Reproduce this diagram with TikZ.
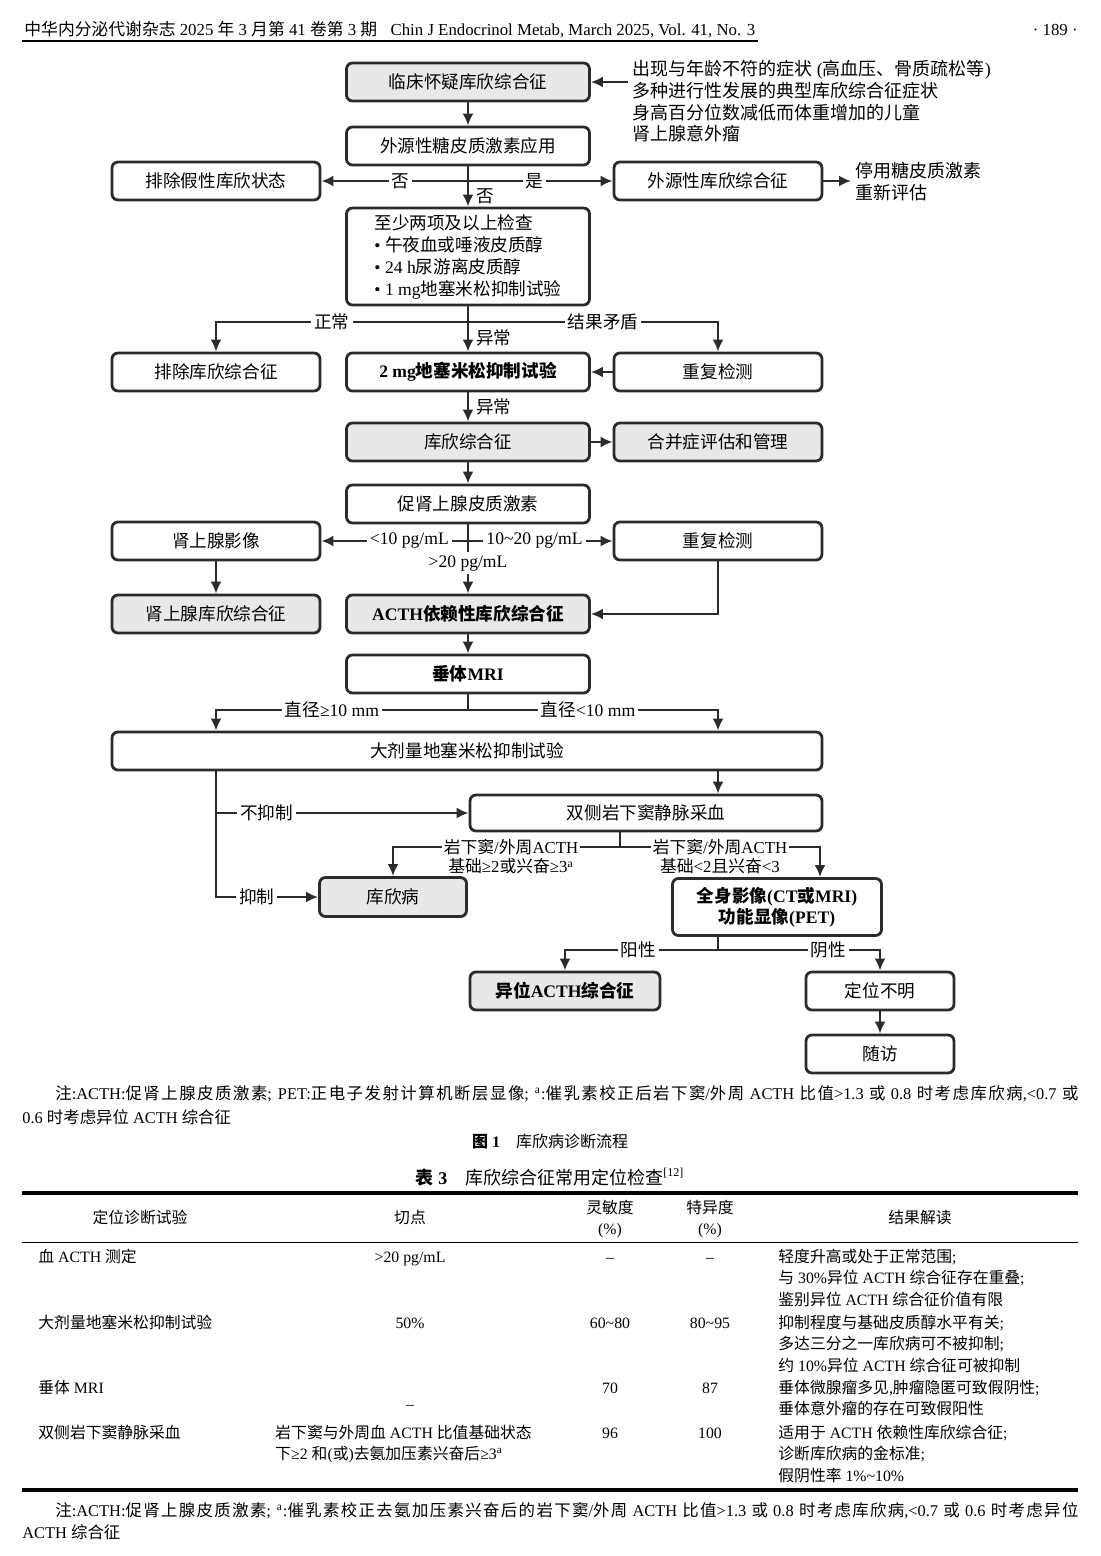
\documentclass[tikz,border=0pt]{standalone}
\usepackage{fontspec}
\setmainfont{Liberation Serif}
\newfontfamily\cjkn{Noto Sans CJK SC}
\newcommand\cjkfont{\cjkn}
\XeTeXinterchartokenstate=1
\newXeTeXintercharclass\cjkcls
\newcount\cjkcnt
\newcommand\cjkrange[2]{\cjkcnt=#1\relax
  \loop\XeTeXcharclass\cjkcnt=\cjkcls
  \ifnum\cjkcnt<#2\relax\advance\cjkcnt by 1\repeat}
\cjkrange{"3000}{"303F}
\cjkrange{"4E00}{"9FFF}
\cjkrange{"FF00}{"FFEF}
\XeTeXinterchartoks 0 \cjkcls = {\cjkfont}
\XeTeXinterchartoks 4095 \cjkcls = {\cjkfont}
\XeTeXinterchartoks \cjkcls 0 = {\rmfamily}
\XeTeXinterchartoks \cjkcls 4095 = {\rmfamily}
\XeTeXinterchartoks \cjkcls \cjkcls = {\hskip0pt plus 0.15em\relax}
\usetikzlibrary{arrows.meta}
\definecolor{ink}{HTML}{2B2B2B}
\definecolor{boxfill}{HTML}{E8E8E8}

\begin{document}
\begin{tikzpicture}[x=0.5pt,y=-0.5pt,
  bx/.style={draw=ink,line width=1.4pt,rounded corners=3pt,fill=white,
    minimum width=121.5pt,minimum height=19pt,inner sep=1pt,align=center,
    font=\fontsize{8.8}{10.5}\selectfont},
  gbx/.style={bx,fill=boxfill},
  sbx/.style={bx,minimum width=104pt},
  bf/.style={font=\fontsize{8.8}{10.5}\selectfont\bfseries},
  a/.style={-{Latex[length=6pt,width=5.5pt]},draw=ink,line width=1.25pt},
  ln/.style={draw=ink,line width=1.25pt},
  lab/.style={fill=white,inner sep=1.5pt,font=\fontsize{8.8}{9}\selectfont},
  lab2/.style={lab,inner sep=1pt,anchor=north,yshift=5.3pt,align=center,
    font=\fontsize{8.4}{9.4}\selectfont},
  side/.style={inner sep=2pt,font=\fontsize{9}{10.5}\selectfont},
  txt/.style={inner sep=0pt,font=\fontsize{8.2}{10.75}\selectfont},
  tb/.style={inner sep=0pt,font=\fontsize{7.9}{10.75}\selectfont}]
\fill[white] (0,0) rectangle (1100,1556);
\useasboundingbox (0,0) rectangle (1100,1556);
% page head
\node[anchor=base west,inner sep=1pt,font=\fontsize{8.4}{10}\selectfont] (head) at (22,36)
  {中华内分泌代谢杂志 2025 年 3 月第 41 卷第 3 期\hspace{0.8em}Chin J Endocrinol Metab, March 2025, Vol. 41, No. 3};
\draw[line width=0.6pt] (head.south west) -- (head.south east);
\node[txt,anchor=base east,font=\fontsize{8.4}{10}\selectfont] (page) at (1078,36) {· 189 ·};
% flow chart
\node[gbx] (sus) at (468,82) {临床怀疑库欣综合征};
\node[side,anchor=base west] (sym) at (628,76) {\begin{tabular}[t]{@{}l@{}}出现与年龄不符的症状 (高血压、骨质疏松等)\\多种进行性发展的典型库欣综合征症状\\身高百分位数减低而体重增加的儿童\\肾上腺意外瘤\end{tabular}};
\node[bx] (exo) at (468,146) {外源性糖皮质激素应用};
\node[sbx] (pseudo) at (216,181) {排除假性库欣状态};
\node[sbx] (exocs) at (718,181) {外源性库欣综合征};
\node[side,anchor=base west] (stop) at (851,178) {\begin{tabular}[t]{@{}l@{}}停用糖皮质激素\\重新评估\end{tabular}};
\node[bx,minimum height=48.5pt,align=left,font=\fontsize{8.8}{11}\selectfont] (scr) at (468,256.5)
  {至少两项及以上检查\\• 午夜血或唾液皮质醇\\• 24 h尿游离皮质醇\\• 1 mg地塞米松抑制试验};
\node[sbx] (excl) at (216,372) {排除库欣综合征};
\node[bx,bf] (dst) at (468,372) {2 mg地塞米松抑制试验};
\node[sbx] (rep1) at (718,372) {重复检测};
\node[gbx] (cs) at (468,442) {库欣综合征};
\node[gbx,minimum width=104pt] (comor) at (718,442) {合并症评估和管理};
\node[bx] (acth) at (468,504) {促肾上腺皮质激素};
\node[sbx] (adimg) at (216,541) {肾上腺影像};
\node[sbx] (rep2) at (718,541) {重复检测};
\node[gbx,minimum width=104pt] (adcs) at (216,614) {肾上腺库欣综合征};
\node[gbx,bf] (dep) at (468,614) {ACTH依赖性库欣综合征};
\node[bx,bf] (mri) at (468,674) {垂体MRI};
\node[bx,minimum width=355pt] (hdd) at (467,751) {大剂量地塞米松抑制试验};
\node[bx,minimum width=176pt,minimum height=18pt] (ipss) at (646,813) {双侧岩下窦静脉采血};
\node[gbx,minimum width=73.5pt,minimum height=19.5pt] (cd) at (393,897) {库欣病};
\node[bx,bf,minimum width=104.5pt,minimum height=28.5pt] (body) at (777,907) {全身影像(CT或MRI)\\功能显像(PET)};
\node[gbx,bf,minimum width=95pt] (ect) at (565,991) {异位ACTH综合征};
\node[bx,minimum width=74pt] (unk) at (880,991) {定位不明};
\node[bx,minimum width=74pt] (fu) at (880,1054) {随访};
\coordinate (s1) at (468,322);
\coordinate (m1) at (468,710);
\coordinate (i1) at (620,847);
\coordinate (b1) at (718,950);
\draw[a] (sym.west |- sus) -- (sus);
\draw[a] (sus) -- (exo);
\draw[a] (exo) -- (scr) node[lab,fill=none,pos=.74,anchor=west,xshift=2pt] {否};
\draw[a] (exo.south |- pseudo) -- (pseudo) node[lab,pos=.46] {否};
\draw[a] (exo.south |- exocs) -- (exocs) node[lab,pos=.46] {是};
\draw[a] (exocs) -- (stop.west |- exocs);
\draw[a] (scr) -- (dst) node[lab,fill=none,pos=.69,anchor=west,xshift=2pt] {异常};
\draw[a] (s1) -| (excl) node[lab,pos=.27] {正常};
\draw[a] (s1) -| (rep1) node[lab,pos=.27] {结果矛盾};
\draw[a] (rep1) -- (dst);
\draw[a] (dst) -- (cs) node[lab,fill=none,pos=.5,anchor=west,xshift=2pt] {异常};
\draw[a] (cs) -- (comor);
\draw[a] (cs) -- (acth);
\draw[a] (acth) -- (dep) node[lab,pos=.56] {>20 pg/mL};
\draw[a] (acth.south |- adimg) -- (adimg) node[lab,pos=.4] {<10 pg/mL};
\draw[a] (acth.south |- rep2) -- (rep2) node[lab,pos=.46] {10\textasciitilde20 pg/mL};
\draw[a] (adimg) -- (adcs);
\draw[a] (rep2) |- (dep);
\draw[a] (dep) -- (mri);
\draw[ln] (mri) -- (m1);
\draw[a] (m1) -| (adimg |- hdd.north) node[lab,pos=.27] {直径≥10 mm};
\draw[a] (m1) -| (rep2 |- hdd.north) node[lab,pos=.24] {直径<10 mm};
\draw[a] (rep2 |- hdd.south) -- (rep2 |- ipss.north);
\draw[a] (adimg |- hdd.south) |- (cd) node[lab,pos=.7] {抑制};
\draw[a] (adimg |- ipss) -- (ipss) node[lab,pos=.2] {不抑制};
\draw[ln] (ipss.south -| i1) -- (i1);
\draw[a] (i1) -| (cd) node[lab2,pos=.24] {岩下窦/外周ACTH\\基础≥2或兴奋≥3\textsuperscript{a}};
\draw[a] (i1) -| ([xshift=21.5pt]body.north) node[lab2,pos=.25] {岩下窦/外周ACTH\\基础<2且兴奋<3};
\draw[ln] (body.south -| b1) -- (b1);
\draw[a] (b1) -| (ect) node[lab,pos=.26] {阳性};
\draw[a] (b1) -| (unk) node[lab,pos=.34] {阴性};
\draw[a] (unk) -- (fu);
% notes and captions
\node[txt,anchor=base west] (note1) at (55,1099) {\makebox[511.5pt][s]{注:ACTH:促肾上腺皮质激素; PET:正电子发射计算机断层显像; \textsuperscript{a}:催乳素校正后岩下窦/外周 ACTH 比值>1.3 或 0.8 时考虑库欣病,<0.7 或}};
\node[txt,anchor=base west] (note2) at (22,1123) {0.6 时考虑异位 ACTH 综合征};
\node[txt,anchor=base,font=\fontsize{8}{10}\selectfont] (fig) at (550,1147) {\textbf{图 1}\hspace{1em}库欣病诊断流程};
\node[txt,anchor=base,font=\fontsize{9}{11}\selectfont] (tab) at (550,1184) {\textbf{表 3}\hspace{1em}库欣综合征常用定位检查\textsuperscript{[12]}};
% table
\draw[line width=1.6pt] (22,1193) -- (1078,1193);
\draw[line width=0.5pt] (22,1242) -- (1078,1242);
\draw[line width=1.6pt] (22,1490) -- (1078,1490);
\node[tb,anchor=base] (h1) at (140,1223) {定位诊断试验};
\node[tb,anchor=base] (h2) at (410,1223) {切点};
\node[tb,anchor=base] (h3) at (610,1213) {\begin{tabular}[t]{@{}c@{}}灵敏度\\(\%)\end{tabular}};
\node[tb,anchor=base] (h4) at (710,1213) {\begin{tabular}[t]{@{}c@{}}特异度\\(\%)\end{tabular}};
\node[tb,anchor=base] (h5) at (920,1223) {结果解读};
\node[tb,anchor=base west] (r1a) at (38,1262) {血 ACTH 测定};
\node[tb,anchor=base] (r1b) at (410,1262) {>20 pg/mL};
\node[tb,anchor=base] (r1c) at (610,1262) {–};
\node[tb,anchor=base] (r1d) at (710,1262) {–};
\node[tb,anchor=base west] (r1e) at (778,1262) {\begin{tabular}[t]{@{}l@{}}轻度升高或处于正常范围;\\与 30\%异位 ACTH 综合征存在重叠;\\鉴别异位 ACTH 综合征价值有限\end{tabular}};
\node[tb,anchor=base west] (r2a) at (38,1328) {大剂量地塞米松抑制试验};
\node[tb,anchor=base] (r2b) at (410,1328) {50\%};
\node[tb,anchor=base] (r2c) at (610,1328) {60\textasciitilde80};
\node[tb,anchor=base] (r2d) at (710,1328) {80\textasciitilde95};
\node[tb,anchor=base west] (r2e) at (778,1328) {\begin{tabular}[t]{@{}l@{}}抑制程度与基础皮质醇水平有关;\\多达三分之一库欣病可不被抑制;\\约 10\%异位 ACTH 综合征可被抑制\end{tabular}};
\node[tb,anchor=base west] (r3a) at (38,1393) {垂体 MRI};
\node[tb,anchor=base] (r3b) at (410,1409) {–};
\node[tb,anchor=base] (r3c) at (610,1393) {70};
\node[tb,anchor=base] (r3d) at (710,1393) {87};
\node[tb,anchor=base west] (r3e) at (778,1393) {\begin{tabular}[t]{@{}l@{}}垂体微腺瘤多见,肿瘤隐匿可致假阴性;\\垂体意外瘤的存在可致假阳性\end{tabular}};
\node[tb,anchor=base west] (r4a) at (38,1438) {双侧岩下窦静脉采血};
\node[tb,anchor=base west] (r4b) at (275,1438) {\begin{tabular}[t]{@{}l@{}}岩下窦与外周血 ACTH 比值基础状态\\下≥2 和(或)去氨加压素兴奋后≥3\textsuperscript{a}\end{tabular}};
\node[tb,anchor=base] (r4c) at (610,1438) {96};
\node[tb,anchor=base] (r4d) at (710,1438) {100};
\node[tb,anchor=base west] (r4e) at (778,1438) {\begin{tabular}[t]{@{}l@{}}适用于 ACTH 依赖性库欣综合征;\\诊断库欣病的金标准;\\假阴性率 1\%\textasciitilde10\%\end{tabular}};
\node[txt,anchor=base west] (note3) at (55,1516) {\makebox[511.5pt][s]{注:ACTH:促肾上腺皮质激素; \textsuperscript{a}:催乳素校正去氨加压素兴奋后的岩下窦/外周 ACTH 比值>1.3 或 0.8 时考虑库欣病,<0.7 或 0.6 时考虑异位}};
\node[txt,anchor=base west] (note4) at (22,1538) {ACTH 综合征};
\end{tikzpicture}
\end{document}
